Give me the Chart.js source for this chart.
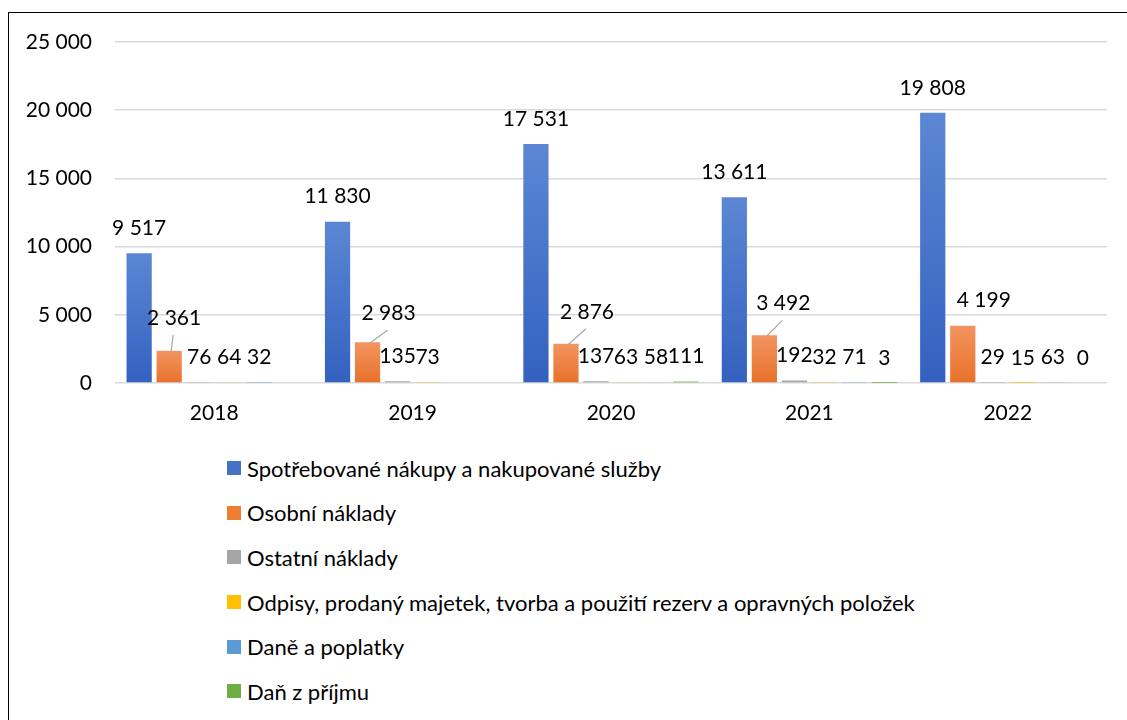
<!DOCTYPE html>
<html><head><meta charset="utf-8">
<script src="https://cdn.jsdelivr.net/npm/chart.js@4.4.0/dist/chart.umd.min.js"></script>
<style>
html,body{margin:0;padding:0;background:#fff;width:1127px;height:720px;overflow:hidden;}
#frame{position:absolute;left:8px;top:12px;width:1140px;height:740px;border:1.5px solid #000;box-sizing:border-box;}
#wrap{position:absolute;left:0;top:0;width:1127px;height:440px;}
#legend{position:absolute;left:227px;top:446px;font-family:Lato,sans-serif;font-size:22px;color:#000;}
.li{height:44.6px;display:flex;align-items:center;white-space:nowrap;}
.sw{width:14px;height:14px;margin-right:6px;flex:none;}
</style></head>
<body>
<div id="frame"></div>
<div id="wrap"><canvas id="c"></canvas></div>
<div id="legend"></div>
<script>
const categories = ['2018','2019','2020','2021','2022'];
const seriesNames = [
  'Spotřebované nákupy a nakupované služby',
  'Osobní náklady',
  'Ostatní náklady',
  'Odpisy, prodaný majetek, tvorba a použití rezerv a opravných položek',
  'Daně a poplatky',
  'Daň z příjmu'
];
const spotrebovaneNakupy = [9517, 11830, 17531, 13611, 19808];
const osobniNaklady = [2361, 2983, 2876, 3492, 4199];
const ostatniNaklady = [76, 135, 137, 192, 29];
const odpisy = [64, 73, 63, 32, 15];
const danePoplatky = [32, null, 58, 71, 63];
const danZPrijmu = [null, null, 111, 3, 0];
const yTicks = [0, 5000, 10000, 15000, 20000, 25000];

const colors = ['#4472C4','#ED7D31','#A5A5A5','#FFC000','#5B9BD5','#70AD47'];
const lightColors = ['#5b87d4','#f29460','#b5b5b5','#ffcd33','#72abdc','#84bb5e'];
const darkColors = ['#3461bf','#e8712a','#9a9a9a','#f2b600','#4b8ecf','#63a23c'];

function fmt(v){ return String(v).replace(/\B(?=(\d{3})+(?!\d))/g, ' '); }

function grad(i){
  return function(c){
    const chart = c.chart, ys = chart.scales && chart.scales.y;
    if (!ys || c.raw == null || !isFinite(ys.top)) return colors[i];
    const top = ys.getPixelForValue(c.raw), bot = ys.getPixelForValue(0);
    if (!isFinite(top) || bot - top < 1) return colors[i];
    const g = chart.ctx.createLinearGradient(0, top, 0, bot);
    g.addColorStop(0, lightColors[i]);
    g.addColorStop(1, darkColors[i]);
    return g;
  };
}

const allSeries = [spotrebovaneNakupy, osobniNaklady, ostatniNaklady, odpisy, danePoplatky, danZPrijmu];

const labelPlugin = {
  id: 'barLabels',
  afterDatasetsDraw(chart, args, opts) {
    const ctx = chart.ctx;
    ctx.save();
    ctx.font = '21px Lato';
    ctx.fillStyle = '#000';
    ctx.textAlign = 'center';
    ctx.textBaseline = 'middle';
    chart.data.datasets.forEach((ds, i) => {
      const meta = chart.getDatasetMeta(i);
      const off = opts.offsets[i];
      meta.data.forEach((bar, j) => {
        const v = ds.data[j];
        if (v == null) return;
        const o = Array.isArray(off[0]) ? off[j] : off;
        const x = bar.x + o[0], y = bar.y + o[1];
        const lead = opts.leaders[i];
        if (lead && lead[j]) {
          ctx.save();
          ctx.strokeStyle = '#a6a6a6';
          ctx.lineWidth = 1.2;
          ctx.beginPath();
          ctx.moveTo(x - 1, y + 17);
          ctx.lineTo(bar.x + 2, bar.y + 1);
          ctx.stroke();
          ctx.restore();
        }
        ctx.fillText(fmt(v), x, y);
      });
    });
    ctx.restore();
  }
};

const datasets = allSeries.map((d, i) => ({
  label: seriesNames[i],
  data: d,
  backgroundColor: grad(i),
  borderWidth: 0,
  categoryPercentage: 0.908,
  barPercentage: 0.84
}));

const chart = new Chart(document.getElementById('c'), {
  type: 'bar',
  data: { labels: categories, datasets },
  options: {
    responsive: true,
    maintainAspectRatio: false,
    animation: false,
    layout: { padding: { left: 0, right: 20, top: 42, bottom: 0 } },
    plugins: {
      legend: { display: false },
      tooltip: { enabled: false },
      barLabels: {
        offsets: [
          [0, -25],
          [[5, -33], [21, -29], [21, -32], [19, -32], [21, -25]],
          [0, -25], [0, -25], [0, -25], [0, -25]
        ],
        leaders: [null, [true, true, true, true, false], null, null, null, null]
      }
    },
    scales: {
      x: {
        grid: { display: false, drawTicks: false },
        border: { display: false },
        ticks: { color: '#000', font: { family: 'Lato', size: 21 }, padding: 18 },
        afterFit(s) { s.height = 57; }
      },
      y: {
        min: 0, max: 25000,
        afterBuildTicks(s) { s.ticks = yTicks.map(v => ({ value: v })); },
        grid: { color: '#d9d9d9', lineWidth: 1.5, drawTicks: false },
        border: { display: false },
        ticks: { color: '#000', font: { family: 'Lato', size: 21 }, padding: 23, callback: v => fmt(v) },
        afterFit(s) { s.width = 115; }
      }
    }
  },
  plugins: [labelPlugin]
});

const leg = document.getElementById('legend');
seriesNames.forEach((n, i) => {
  const row = document.createElement('div');
  row.className = 'li';
  const sw = document.createElement('span');
  sw.className = 'sw';
  sw.style.background = colors[i];
  const t = document.createElement('span');
  t.textContent = n;
  row.appendChild(sw); row.appendChild(t);
  leg.appendChild(row);
});
</script>
</body></html>
